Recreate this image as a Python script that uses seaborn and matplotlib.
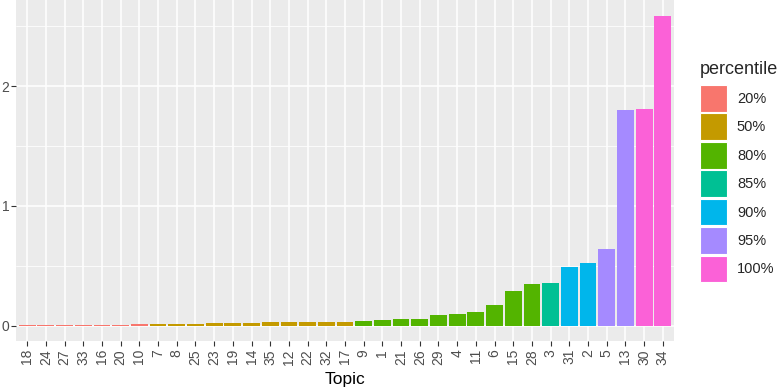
import matplotlib
matplotlib.use("Agg")
import matplotlib.pyplot as plt
import matplotlib.patches as mpatches
from matplotlib.ticker import MultipleLocator
import seaborn as sns
import pandas as pd

topics = ['18', '24', '27', '33', '16', '20', '10', '7', '8', '25', '23', '19',
          '14', '35', '12', '22', '32', '17', '9', '1', '21', '26', '29', '4',
          '11', '6', '15', '28', '3', '31', '2', '5', '13', '30', '34']
values = [0.005, 0.0055, 0.007, 0.007, 0.008, 0.008, 0.011, 0.013, 0.015, 0.016,
          0.017, 0.018, 0.020, 0.027, 0.028, 0.028, 0.029, 0.030, 0.036, 0.050,
          0.053, 0.058, 0.089, 0.094, 0.111, 0.169, 0.289, 0.344, 0.358, 0.490,
          0.525, 0.640, 1.797, 1.810, 2.590]
percentiles = ['20%'] * 7 + ['50%'] * 11 + ['80%'] * 10 + ['85%'] + ['90%'] * 2 + ['95%'] * 2 + ['100%'] * 2
levels = ['20%', '50%', '80%', '85%', '90%', '95%', '100%']
colors = ['#F8766D', '#C49A00', '#53B400', '#00C094', '#00B6EB', '#A58AFF', '#FB61D7']

df = pd.DataFrame({'Topic': topics, 'value': values, 'percentile': percentiles})

sns.set_theme(style='darkgrid')
plt.rcParams['font.family'] = ['Liberation Sans', 'DejaVu Sans']

fig = plt.figure(figsize=(7.78, 3.88), dpi=100)
ax = fig.add_axes([16 / 778, 1 - 341 / 388, (674 - 16) / 778, 341 / 388])
ax.set_facecolor('#EBEBEB')

sns.barplot(data=df, x='Topic', y='value', hue='percentile', order=topics,
            hue_order=levels, palette=dict(zip(levels, colors)), dodge=False,
            width=0.9, saturation=1, ax=ax, legend=False, zorder=3,
            linewidth=0, edgecolor='none')

ax.set_xlim(-0.6, len(topics) - 0.4)
ax.set_ylim(-0.1295, 2.7195)
ax.yaxis.set_major_locator(MultipleLocator(1))
ax.yaxis.set_minor_locator(MultipleLocator(0.5))
ax.set_axisbelow(True)
ax.grid(False)
ax.grid(which='major', axis='both', color='white', linewidth=1.1)
ax.grid(which='minor', axis='y', color='white', linewidth=0.55)
for s in ax.spines.values():
    s.set_visible(False)

ax.tick_params(axis='x', which='major', bottom=True, length=3.3, width=0.8,
               color='#333333', labelsize=10, labelcolor='#4D4D4D', pad=2.5,
               labelrotation=90)
ax.tick_params(axis='y', which='major', left=True, length=3.3, width=0.8,
               color='#333333', labelsize=10, labelcolor='#4D4D4D', pad=1.5)
ax.tick_params(axis='y', which='minor', left=False, length=0)
ax.set_ylabel('')
ax.set_xlabel('Topic', fontsize=12.5, color='black', labelpad=5)

handles = [mpatches.Patch(facecolor=c, edgecolor='white', linewidth=0.8, label=l)
           for c, l in zip(colors, levels)]
leg = fig.legend(handles=handles, title='percentile', loc='upper left',
                 bbox_to_anchor=(700 / 778, 1 - 61 / 388), frameon=False,
                 fontsize=10.5, title_fontsize=13, handlelength=1.83,
                 handleheight=2.44, labelspacing=0.12, handletextpad=0.7,
                 borderaxespad=0, borderpad=0)
leg._legend_box.align = 'left'
leg._legend_box.sep = 5

fig.savefig('out.png', dpi=100)
